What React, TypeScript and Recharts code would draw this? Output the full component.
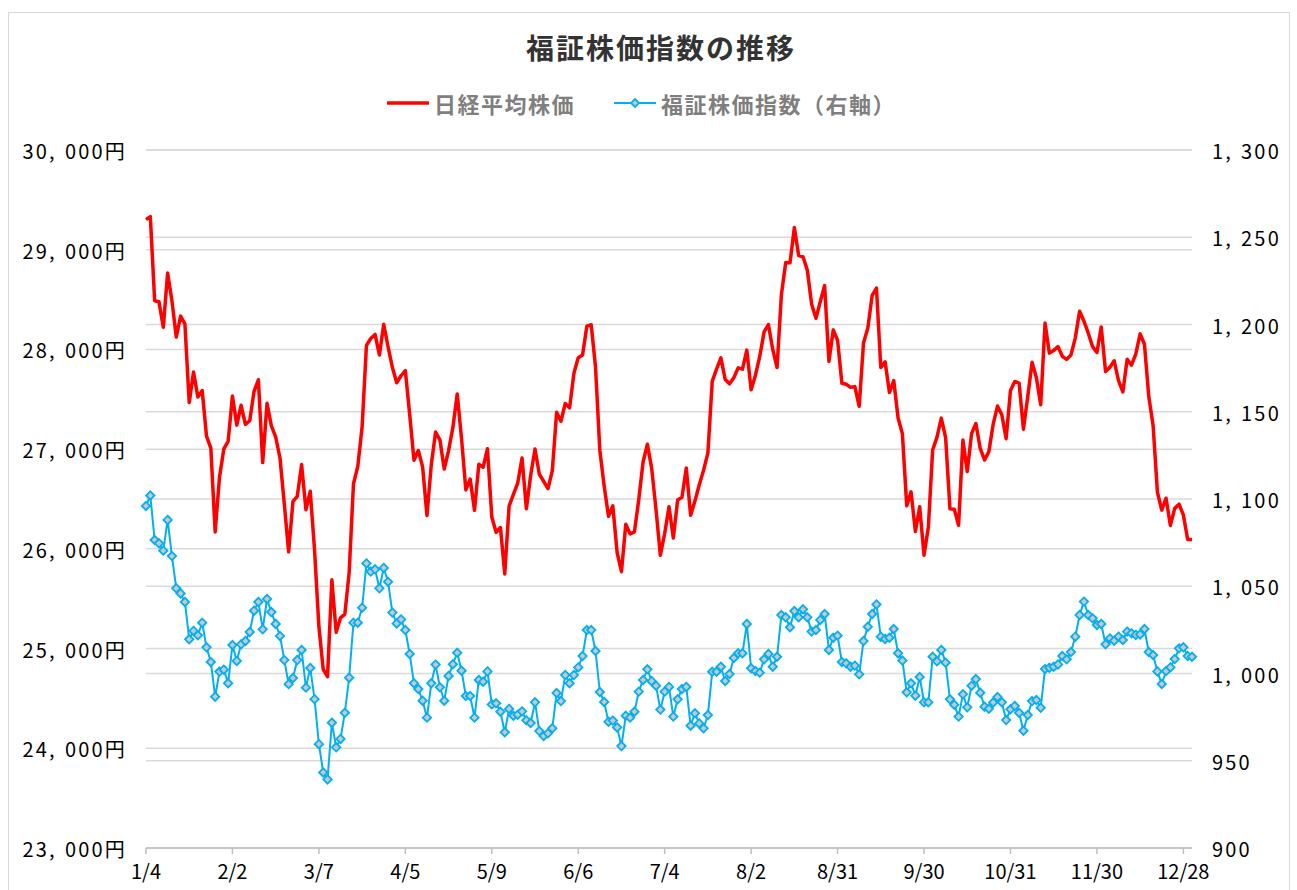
import React from 'react';
import { LineChart, Line, XAxis, YAxis, CartesianGrid } from 'recharts';

const tickLabels = ['1/4', '2/2', '3/7', '4/5', '5/9', '6/6', '7/4', '8/2', '8/31', '9/30', '10/31', '11/30', '12/28'];
const tickPositions = [0, 20, 40, 60, 80, 100, 120, 140, 160, 180, 200, 220, 240];
const leftTicks = [23000, 24000, 25000, 26000, 27000, 28000, 29000, 30000];
const rightTicks = [900, 950, 1000, 1050, 1100, 1150, 1200, 1250, 1300];

const nikkei = [
  29302, 29332, 28488, 28479, 28222, 28766, 28489, 28124, 28334, 28257, 27467, 27773, 27522, 27588, 27131, 27011, 26170, 26717, 27002,
  27078, 27534, 27241, 27440, 27249, 27285, 27580, 27696, 26865, 27460, 27233, 27122, 26911, 26450, 25971, 26477, 26527,
  26845, 26393, 26577, 25985, 25221, 24791, 24718, 25690, 25163, 25308, 25346, 25762, 26653, 26827, 27224, 28040, 28110, 28150, 27944, 28252, 28027, 27821,
  27666, 27736, 27788, 27350, 26889, 26986, 26822, 26335, 26843, 27172, 27093, 26800, 26985, 27218, 27553, 27105, 26591, 26700, 26387, 26848,
  26819, 27004, 26319, 26167, 26214, 25749, 26428, 26547, 26660, 26911, 26403, 26739, 27002, 26748, 26678, 26605, 26782, 27369, 27280,
  27458, 27414, 27762, 27916, 27944, 28234, 28247, 27824, 26987, 26630, 26326, 26431, 25963, 25771, 26246, 26150, 26171, 26492, 26871, 27049, 26805, 26393,
  25936, 26154, 26423, 26108, 26491, 26517, 26812, 26337, 26479, 26643, 26788, 26962, 27680, 27803, 27915, 27699, 27655, 27716, 27815, 27802,
  27993, 27595, 27742, 27932, 28176, 28249, 28000, 27819, 28547, 28872, 28869, 29223, 28942, 28930, 28795, 28453, 28313, 28479, 28641, 27879, 28196, 28092,
  27661, 27651, 27620, 27627, 27430, 28065, 28215, 28542, 28615, 27819, 27876, 27568, 27688, 27313, 27154, 26432, 26572, 26174, 26422, 25937,
  26216, 26992, 27121, 27311, 27116, 26401, 26397, 26237, 27091, 26776, 27156, 27257, 27007, 26891, 26975, 27250, 27432, 27345, 27105, 27587,
  27679, 27663, 27200, 27528, 27872, 27716, 27446, 28264, 27963, 27990, 28028, 27931, 27900, 27945, 28116, 28383, 28283, 28163, 28028, 27969,
  28226, 27778, 27820, 27886, 27686, 27574, 27901, 27842, 27955, 28156, 28052, 27527, 27238, 26568, 26388, 26508, 26235, 26406, 26448, 26341, 26094, 26095,
];

const fukusho = [
  1096, 1102, 1076.5, 1074.6, 1070.4, 1088, 1067.3, 1048.8, 1045.9, 1041, 1019.6, 1024.4, 1021.9, 1029.1, 1015, 1006.6, 986.7, 1001.1, 1002.2, 994.4,
  1016.3, 1007.2, 1016.7, 1018.6, 1023.8, 1036, 1041, 1025.3, 1042.7, 1035.2, 1028.4, 1021.5, 1007.7, 993.9, 997.4, 1007.7, 1013.5, 991.9, 1003.2, 985.3,
  959.5, 943.3, 939.3, 971.8, 957.7, 962.5, 977.5, 997.6, 1029.1, 1029.1, 1037.7, 1063.1, 1058.4, 1059.7, 1048.8, 1060.5, 1052.6, 1034.9, 1028.7, 1031,
  1024.9, 1011.2, 994.4, 991.1, 984.4, 974.7, 994.4, 1005.1, 992.1, 984.4, 998.6, 1005.3, 1011.9, 1001.6, 987.1, 987.1, 974.7, 996.3, 995.3, 1001.2,
  982.3, 982.9, 978.1, 966.3, 979.7, 975.8, 976.4, 978.3, 973.2, 971.6, 983.5, 967, 964.2, 965.7, 968.6, 988.8, 984.2, 999.1, 994.4, 999.1,
  1003.5, 1010, 1024.9, 1024.9, 1012.9, 989.4, 983.7, 972.4, 973, 969.1, 958.4, 975.8, 974.7, 978.1, 989.6, 996.3, 1002.4, 995.6, 993, 979.3,
  989.6, 992.3, 975.3, 985.2, 991.1, 992.3, 970.1, 977.2, 971.4, 968.6, 976.2, 1001, 1001, 1003.9, 995.7, 999.7, 1008.9, 1011.6, 1011.6, 1028.4,
  1003, 1001.4, 1000.5, 1008.1, 1011.2, 1003.9, 1009.6, 1033.5, 1032.2, 1026.5, 1035.8, 1032.2, 1036.8, 1032.2, 1024, 1024.9, 1030.7, 1034.1, 1013.5, 1020.5,
  1021.7, 1006.6, 1005.8, 1003.9, 1004.5, 999.5, 1018.6, 1026.8, 1034.1, 1039.6, 1021.1, 1019.8, 1020.5, 1025.5, 1011.6, 1007.4, 989.2, 994.4, 987.3, 998,
  983.5, 983.5, 1009.6, 1007, 1013.5, 1006.2, 985.2, 982.1, 975.3, 988.1, 980.6, 993, 996.8, 989, 981, 979.8, 983.4, 986.5, 983.5, 973.3,
  979.5, 981.4, 977.5, 967.2, 976.2, 984.2, 984.8, 980.4, 1002.6, 1003.3, 1003.9, 1005.2, 1010, 1008.1, 1012.3, 1021.1, 1033.5, 1041.2, 1033.5, 1031.6,
  1027.8, 1028.4, 1016.7, 1020.1, 1018.8, 1021.1, 1019.2, 1024, 1023, 1022.1, 1022.4, 1025.5, 1012.3, 1010.6, 1001.2, 994, 1001.4, 1003.5, 1008.3, 1014.4,
  1015, 1010, 1009.6,
];

const data = nikkei.map((v, i) => ({ i, nikkei: v, fukusho: fukusho[i] }));

const FONT = '"Noto Sans CJK JP", "Noto Sans", sans-serif';
const RED = '#ff0000';
const CYAN = '#00b0f0';
const GRID = '#d9d9d9';

// Split a number into "thousands," and "rest" so the comma can get the wide gap of the original font
const splitNum = (v: number) => {
  const s = v.toLocaleString('en-US');
  const k = s.indexOf(',');
  if (k < 0) return [s, ''];
  return [s.slice(0, k + 1), s.slice(k + 1)];
};

const NumText = ({ x, y, value, suffix, anchor }: any) => {
  const [a, b] = splitNum(value);
  return (
    <text x={x} y={y} textAnchor={anchor} dominantBaseline="central" fontFamily={FONT} fontSize={20} letterSpacing={2.2} fill="#000">
      <tspan>{a}</tspan>
      {b ? <tspan dx={8}>{b + suffix}</tspan> : <tspan>{suffix}</tspan>}
    </text>
  );
};

const LeftTick = (props: any) => {
  const { x, y, payload } = props;
  return <NumText x={x} y={y} value={payload.value} suffix="円" anchor="end" />;
};

const RightTick = (props: any) => {
  const { x, y, payload } = props;
  return <NumText x={x} y={y} value={payload.value} suffix="" anchor="start" />;
};

const BottomTick = (props: any) => {
  const { x, y, payload } = props;
  const idx = tickPositions.indexOf(payload.value);
  return (
    <text x={x} y={y} dy="0.75em" textAnchor="middle" fontFamily={FONT} fontSize={20} fill="#000">
      {idx >= 0 ? tickLabels[idx] : ''}
    </text>
  );
};

const Diamond = (props: any) => {
  const { cx, cy, index } = props;
  if (cx == null || cy == null) return <g key={`d${index}`} />;
  const r = 4.2;
  return (
    <polygon
      key={`d${index}`}
      points={`${cx},${cy - r} ${cx + r},${cy} ${cx},${cy + r} ${cx - r},${cy}`}
      fill="#c8c8c8"
      stroke={CYAN}
      strokeWidth={1.8}
    />
  );
};

export default function App() {
  return (
    <div style={{ position: 'relative', width: 1297, height: 890, background: '#fff', overflow: 'hidden' }}>
      <style>{`body{margin:0;}`}</style>
      <div
        style={{
          position: 'absolute',
          left: 8,
          top: 12,
          width: 1282,
          height: 900,
          border: '1px solid #d9d9d9',
          boxSizing: 'border-box',
        }}
      />
      <div
        style={{
          position: 'absolute',
          left: 0,
          width: 1322,
          top: 28,
          textAlign: 'center',
          fontFamily: FONT,
          fontWeight: 700,
          fontSize: 28,
          letterSpacing: 2,
          color: '#333',
          lineHeight: '38px',
        }}
      >
        福証株価指数の推移
      </div>
      <div
        style={{
          position: 'absolute',
          left: 386,
          top: 88,
          height: 30,
          display: 'flex',
          alignItems: 'center',
          fontFamily: FONT,
          fontWeight: 700,
          fontSize: 22,
          letterSpacing: 1.5,
          color: '#7f7f7f',
          whiteSpace: 'nowrap',
        }}
      >
        <svg width={44} height={12} style={{ marginRight: 4 }}>
          <line x1={1} y1={6} x2={43} y2={6} stroke={RED} strokeWidth={3.5} />
        </svg>
        <span>日経平均株価</span>
        <svg width={44} height={14} style={{ marginLeft: 38, marginRight: 4 }}>
          <line x1={1} y1={7} x2={43} y2={7} stroke={CYAN} strokeWidth={2} />
          <polygon points="22,3 26,7 22,11 18,7" fill="#c8c8c8" stroke={CYAN} strokeWidth={1.8} />
        </svg>
        <span>福証株価指数（右軸）</span>
      </div>
      <div style={{ position: 'absolute', left: 0, top: 0 }}>
        <LineChart width={1297} height={890} data={data} margin={{ top: 150, right: 0, bottom: 0, left: 0 }}>
          <CartesianGrid yAxisId="left" vertical={false} stroke={GRID} strokeWidth={1.5} />
          <CartesianGrid yAxisId="right" vertical={false} stroke={GRID} strokeWidth={1.5} />
          <XAxis
            dataKey="i"
            type="number"
            domain={[0, 242]}
            ticks={tickPositions}
            interval={0}
            height={42}
            stroke="#bfbfbf"
            strokeWidth={1.5}
            tickSize={6}
            tickMargin={10}
            tick={<BottomTick />}
          />
          <YAxis
            yAxisId="left"
            orientation="left"
            width={146}
            domain={[23000, 30000]}
            ticks={leftTicks}
            interval={0}
            axisLine={false}
            tickLine={false}
            tickSize={0}
            tickMargin={19}
            tick={<LeftTick />}
          />
          <YAxis
            yAxisId="right"
            orientation="right"
            width={105}
            domain={[900, 1300]}
            ticks={rightTicks}
            interval={0}
            axisLine={false}
            tickLine={false}
            tickSize={0}
            tickMargin={20}
            tick={<RightTick />}
          />
          <Line
            yAxisId="left"
            type="linear"
            dataKey="nikkei"
            stroke={RED}
            strokeWidth={3.5}
            strokeLinejoin="round"
            dot={false}
            activeDot={false}
            isAnimationActive={false}
          />
          <Line
            yAxisId="right"
            type="linear"
            dataKey="fukusho"
            stroke={CYAN}
            strokeWidth={2}
            strokeLinejoin="round"
            dot={(p: any) => <Diamond key={`d${p.index}`} {...p} />}
            activeDot={false}
            isAnimationActive={false}
          />
        </LineChart>
      </div>
    </div>
  );
}
